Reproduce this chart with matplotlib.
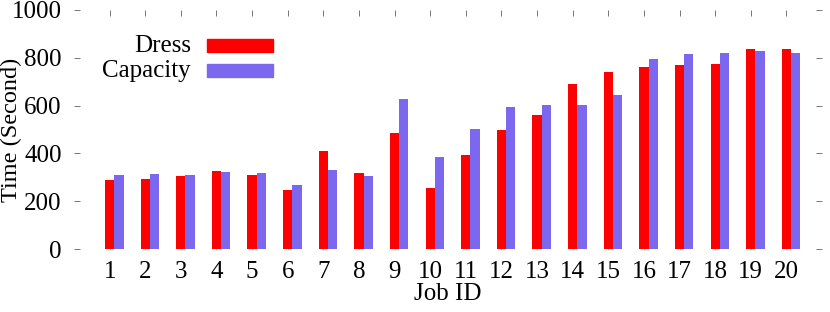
import matplotlib
matplotlib.use("Agg")
import matplotlib.pyplot as plt
from matplotlib.patches import Rectangle
import numpy as np

plt.rcParams['font.family'] = ['Liberation Serif', 'DejaVu Serif']

# data
job_ids = list(range(1, 21))
dress = [287, 291, 304, 328, 308, 247, 411, 318, 484, 255,
         393, 497, 562, 689, 741, 760, 769, 775, 837, 837]
capacity = [311, 314, 310, 321, 317, 266, 329, 305, 629, 384,
            503, 593, 604, 601, 643, 794, 816, 820, 827, 820]
series_names = ["Dress", "Capacity"]
colors = ["#ff0000", "#7b68ee"]
yticks = [0, 200, 400, 600, 800, 1000]

W, H = 830, 312
fig = plt.figure(figsize=(W / 100, H / 100), dpi=100)
ax = fig.add_axes([74 / W, 1 - 249 / H, (822 - 74) / W, (249 - 10) / H])

x = np.array(job_ids)
bw = 0.26
ax.bar(x, dress, width=bw, color=colors[0], zorder=2)
ax.bar(x + bw, capacity, width=bw, color=colors[1], zorder=2)

ax.set_xlim(0, 21)
ax.set_ylim(0, 1000)
ax.set_axisbelow(True)
for s in ax.spines.values():
    s.set_visible(False)

fs = 18
ax.set_xticks(x)
ax.set_xticklabels([str(j) for j in job_ids], fontsize=fs)
ax.set_yticks(yticks)
ax.set_yticklabels([str(v) for v in yticks], fontsize=fs)
ax.tick_params(axis='both', direction='in', length=4.3, width=0.7,
               color='#777777', top=True, right=True, pad=9)
ax.set_xlabel("Job ID", fontsize=fs, labelpad=0)
ax.set_ylabel("Time (Second)", fontsize=17.5)
ax.yaxis.set_label_coords((22 - 74) / 748, 0.5)

# gnuplot-style key: right-aligned text, colored box to its right
key_y = [46, 71]
for name, c, yy in zip(series_names, colors, key_y):
    fig.text(191 / W, 1 - yy / H, name, ha='right', va='center', fontsize=fs)
    fig.patches.append(Rectangle((207 / W, 1 - (yy + 6) / H), 66 / W, 13 / H,
                                 transform=fig.transFigure, color=c, figure=fig))

fig.savefig("out.png", dpi=100)
